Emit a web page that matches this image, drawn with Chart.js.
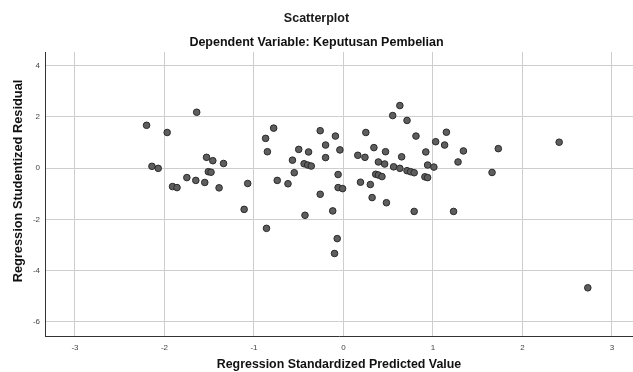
<!DOCTYPE html>
<html lang="en">
<head>
    <meta charset="UTF-8">
    <title>Scatterplot</title>
    <script src="https://cdn.jsdelivr.net/npm/chart.js@4.4.0/dist/chart.umd.min.js"></script>
    <style>
        html, body { margin: 0; padding: 0; background: #fff; }
        #wrap { width: 633px; height: 372px; }
    </style>
</head>
<body>
    <div id="wrap">
        <canvas id="myChart" width="633" height="372"></canvas>
    </div>
    <script>
        // standardized predicted value (x) / studentized residual (y)
        var xValues = [
            -2.20, -1.64, -1.97, -2.14, -2.07, -1.91, -1.86, -1.75, -1.65, -1.55,
            -1.53, -1.46, -1.51, -1.48, -1.34, -1.39, -1.07, -1.11, -0.86, -0.78,
            -0.87, -0.85, -0.74, -0.62, -0.57, -0.50, -0.39, -0.55, -0.44, -0.40,
            -0.36, -0.43, -0.26, -0.26, 0.63, 0.55, 0.71, 0.81, -0.09, 0.25,
            -0.20, -0.20, -0.04, -0.06, -0.06, -0.01, -0.12, -0.07, -0.10, 0.16,
            0.24, 0.34, 0.47, 0.65, 0.39, 0.46, 0.56, 0.63, 0.71, 0.75,
            0.79, 0.36, 0.39, 0.43, 0.19, 0.30, 0.32, 0.48, 0.79, 0.92,
            1.03, 1.15, 1.13, 0.94, 1.01, 0.91, 0.94, 1.34, 1.28, 1.23,
            1.73, 1.66, 2.41, 2.73
        ];
        var yValues = [
            1.67, 2.18, 1.39, 0.07, -0.01, -0.72, -0.76, -0.37, -0.48, -0.56,
            0.42, 0.29, -0.14, -0.16, 0.18, -0.77, -0.60, -1.61, -2.35, 1.56,
            1.16, 0.64, -0.48, -0.61, 0.31, 0.73, 0.63, -0.18, 0.17, 0.12,
            0.08, -1.84, 1.46, -1.02, 2.44, 2.05, 1.86, 1.25, 1.25, 1.39,
            0.90, 0.41, 0.71, -0.25, -0.76, -0.80, -1.67, -2.75, -3.33, 0.50,
            0.42, 0.80, 0.64, 0.44, 0.24, 0.16, 0.05, -0.01, -0.10, -0.14,
            -0.18, -0.24, -0.27, -0.33, -0.55, -0.64, -1.15, -1.35, -1.69, 0.63,
            1.03, 1.40, 0.90, 0.12, 0.04, -0.34, -0.37, 0.67, 0.24, -1.69,
            0.76, -0.17, 1.01, -4.67
        ];
        var xTicks = [-3, -2, -1, 0, 1, 2, 3];
        var yTicks = [-6, -4, -2, 0, 2, 4];

        var points = xValues.map(function (x, i) {
            return { x: x, y: yValues[i] };
        });

        var gridColor = '#cecece';
        var tickFont = { family: 'Liberation Sans', size: 8 };

        // y axis title sits a bit above the plot's middle in the original
        var yTitlePlugin = {
            id: 'yTitle',
            afterDraw: function (chart) {
                var c = chart.ctx;
                c.save();
                c.translate(18, 181);
                c.rotate(-Math.PI / 2);
                c.font = 'bold 12.8px "Liberation Sans"';
                c.fillStyle = '#111';
                c.textAlign = 'center';
                c.textBaseline = 'middle';
                c.fillText('Regression Studentized Residual', 0, 0);
                c.restore();
            }
        };

        var ctx = document.getElementById('myChart').getContext('2d');
        var chart = new Chart(ctx, {
            type: 'scatter',
            data: {
                datasets: [{
                    label: 'Residual',
                    data: points,
                    pointRadius: 3.3,
                    pointHoverRadius: 3.3,
                    pointBackgroundColor: '#5e5e5e',
                    pointBorderColor: '#2a2a2a',
                    pointBorderWidth: 1
                }]
            },
            options: {
                responsive: false,
                animation: false,
                layout: { padding: 0, autoPadding: false },
                plugins: {
                    legend: { display: false },
                    tooltip: { enabled: false },
                    title: {
                        display: true,
                        text: 'Scatterplot',
                        color: '#1a1a1a',
                        font: { family: 'Liberation Sans', size: 12.5, weight: 'bold' },
                        padding: { top: 11.5, bottom: 4 }
                    },
                    subtitle: {
                        display: true,
                        text: 'Dependent Variable: Keputusan Pembelian',
                        color: '#111',
                        font: { family: 'Liberation Sans', size: 12.5, weight: 'bold' },
                        padding: { top: 4.3, bottom: 2.2 }
                    }
                },
                scales: {
                    x: {
                        type: 'linear',
                        min: -3.335,
                        max: 3.235,
                        afterBuildTicks: function (axis) {
                            axis.ticks = xTicks.map(function (v) { return { value: v }; });
                        },
                        afterFit: function (axis) { axis.height = 36; },
                        grid: { color: gridColor, drawTicks: false },
                        border: { color: '#333', width: 1 },
                        ticks: { color: '#444', font: tickFont, padding: 7 },
                        title: {
                            display: true,
                            text: 'Regression Standardized Predicted Value',
                            color: '#111',
                            font: { family: 'Liberation Sans', size: 12.4, weight: 'bold' },
                            padding: { top: 0, bottom: 0 }
                        }
                    },
                    y: {
                        type: 'linear',
                        min: -6.55,
                        max: 4.53,
                        afterBuildTicks: function (axis) {
                            axis.ticks = yTicks.map(function (v) { return { value: v }; });
                        },
                        afterFit: function (axis) { axis.width = 45; },
                        grid: { color: gridColor, drawTicks: false },
                        border: { color: '#333', width: 1 },
                        ticks: { color: '#444', font: tickFont, padding: 5 },
                        title: { display: false }
                    }
                }
            },
            plugins: [yTitlePlugin]
        });
    </script>
</body>
</html>
